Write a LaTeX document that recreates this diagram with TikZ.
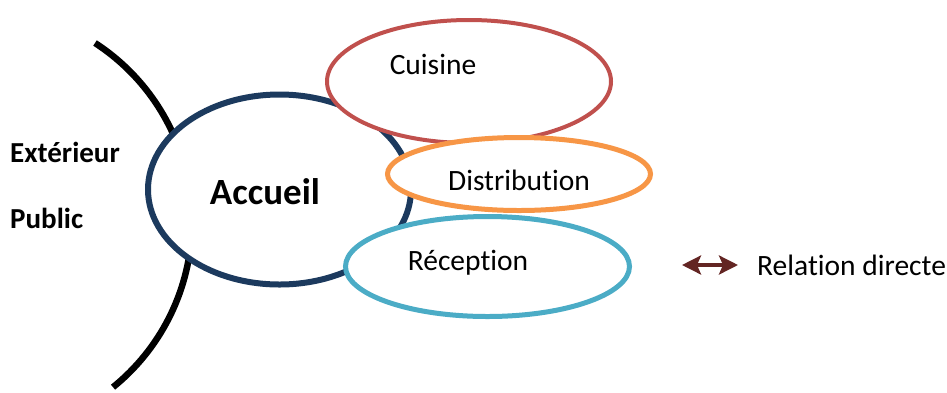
\documentclass[tikz,border=0pt]{standalone}
\usepackage{fontspec}
\setmainfont{Carlito}[Ligatures={NoCommon}]
\usetikzlibrary{shapes.geometric,arrows.meta}
\definecolor{navy}{RGB}{28,58,94}
\definecolor{cuisred}{HTML}{C0504D}
\definecolor{distorange}{HTML}{F79646}
\definecolor{reccyan}{HTML}{4BACC6}
\definecolor{arrowred}{HTML}{632523}
\tikzset{
  zone/.style={ellipse, draw, fill=white, inner sep=0pt},
  lbl/.style={inner sep=0pt, font=\fontsize{29.5}{34}\selectfont},
  sidelbl/.style={inner sep=0pt, anchor=west, font=\bfseries\fontsize{29}{34}\selectfont},
  legarrow/.style={arrowred, line width=3.5pt,
    {Stealth[length=19pt,width=19pt,inset=4pt]}-{Stealth[length=19pt,width=19pt,inset=4pt]}},
}
\begin{document}
\begin{tikzpicture}[x=1pt,y=-1pt]
\useasboundingbox (0,0) rectangle (947,392);
% boundary arc
\draw[line width=6.5pt] (95,43) arc[start angle=-57, end angle=51, radius=213];
% zones
\node[zone, draw=navy, line width=6pt, minimum width=263pt, minimum height=190pt] (accueil) at (279.5,189.5) {};
\node[zone, draw=cuisred, line width=4pt, minimum width=284pt, minimum height=123pt] (cuisine) at (469,81.5) {};
\node[zone, draw=reccyan, line width=5pt, minimum width=284pt, minimum height=100pt] (reception) at (487.5,266.5) {};
\node[zone, draw=distorange, line width=5pt, minimum width=263pt, minimum height=73pt] (distribution) at (519,174) {};
% labels
\node[lbl, font=\bfseries\fontsize{37}{42}\selectfont] (taccueil) at (265,192) {Accueil};
\node[lbl] (tcuisine) at (433,64) {Cuisine};
\node[lbl] (tdistribution) at (519,180) {Distribution};
\node[lbl] (treception) at (468,263) {Réception};
\node[sidelbl] (text) at (10,152) {Extérieur};
\node[sidelbl] (tpublic) at (10,218) {Public};
% legend
\coordinate (la) at (682,265);
\coordinate (lb) at (738,265);
\draw[legarrow] (la) -- (lb);
\node[lbl, anchor=west] (tlegend) at (757,265) {Relation directe};
\end{tikzpicture}
\end{document}
